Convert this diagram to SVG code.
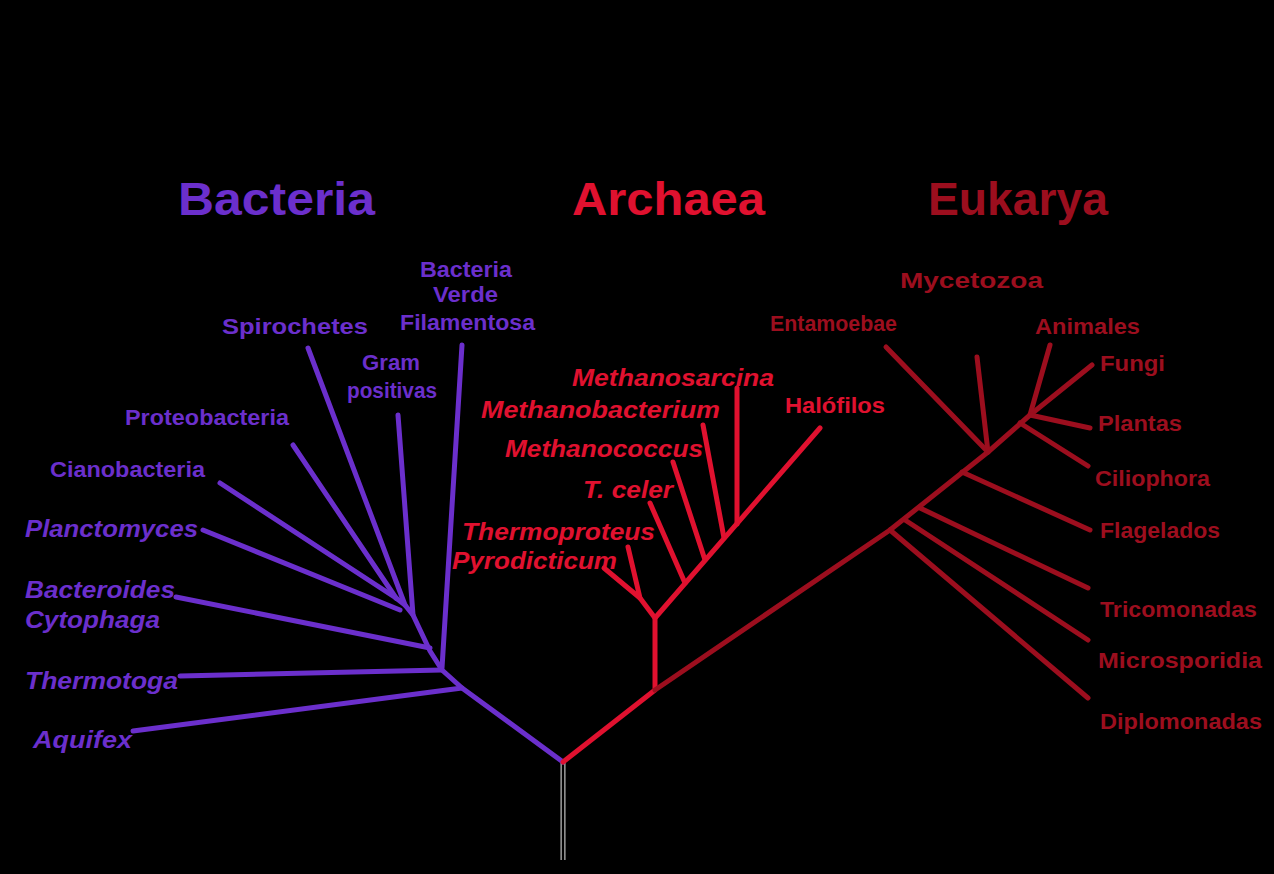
<svg xmlns="http://www.w3.org/2000/svg" width="1274" height="874" viewBox="0 0 1274 874">
<style>
.t{font-family:"Liberation Sans",Arial,sans-serif;font-weight:bold;font-size:22px}
.i{font-style:italic;font-size:24px}
.d{font-size:46px}
.bac{fill:#6b2fcc}
.arc{fill:#e0112f}
.euk{fill:#9c0e1e}
.lb{stroke:#6b2fcc;stroke-width:5;fill:none;stroke-linecap:round;stroke-linejoin:round}
.la{stroke:#e0112f;stroke-width:5;fill:none;stroke-linecap:round;stroke-linejoin:round}
.le{stroke:#9c0e1e;stroke-width:5;fill:none;stroke-linecap:round;stroke-linejoin:round}
</style>
<rect x="0" y="0" width="1274" height="874" fill="#000"/>
<g id="connectors">
  <line x1="563" y1="762" x2="563" y2="860" stroke="#bbbbbb" stroke-width="5"/>
  <line x1="563" y1="762" x2="563" y2="860" stroke="#000" stroke-width="2.5"/>
  <!-- Bacteria -->
  <polyline class="lb" points="563,762 462,688 442,670 430,651 413,615 405,605 396,598"/>
  <line class="lb" x1="462" y1="688" x2="133" y2="731"/>
  <line class="lb" x1="442" y1="670" x2="180" y2="676"/>
  <line class="lb" x1="442" y1="668" x2="462" y2="345"/>
  <line class="lb" x1="430" y1="648" x2="176" y2="597"/>
  <line class="lb" x1="413" y1="615" x2="398" y2="415"/>
  <line class="lb" x1="405" y1="605" x2="308" y2="348"/>
  <line class="lb" x1="396" y1="598" x2="293" y2="445"/>
  <line class="lb" x1="396" y1="598" x2="220" y2="483"/>
  <line class="lb" x1="400" y1="610" x2="203" y2="530"/>
  <!-- Archaea -->
  <polyline class="la" points="563,762 655,690 655,618 820,428"/>
  <polyline class="la" points="655,618 640,598 628,547"/>
  <line class="la" x1="640" y1="598" x2="604" y2="568"/>
  <line class="la" x1="685" y1="583" x2="650" y2="503"/>
  <line class="la" x1="705" y1="560" x2="673" y2="462"/>
  <line class="la" x1="724" y1="538" x2="703" y2="425"/>
  <line class="la" x1="737" y1="524" x2="737" y2="388"/>
  <!-- Eukarya -->
  <polyline class="le" points="655,690 890,530 988,452 1030,415 1092,365"/>
  <line class="le" x1="890" y1="530" x2="1088" y2="698"/>
  <line class="le" x1="905" y1="520" x2="1088" y2="640"/>
  <line class="le" x1="920" y1="508" x2="1088" y2="588"/>
  <line class="le" x1="962" y1="472" x2="1090" y2="530"/>
  <line class="le" x1="988" y1="452" x2="886" y2="347"/>
  <line class="le" x1="988" y1="452" x2="977" y2="357"/>
  <line class="le" x1="1030" y1="415" x2="1050" y2="345"/>
  <line class="le" x1="1030" y1="415" x2="1090" y2="428"/>
  <line class="le" x1="1020" y1="423" x2="1088" y2="466"/>
</g>
<g id="title-bacteria"><text class="t d bac" x="178" y="215" textLength="197" lengthAdjust="spacingAndGlyphs">Bacteria</text></g>
<g id="title-archaea"><text class="t d arc" x="572" y="215" textLength="193" lengthAdjust="spacingAndGlyphs">Archaea</text></g>
<g id="title-eukarya"><text class="t d euk" x="928" y="215" textLength="180" lengthAdjust="spacingAndGlyphs">Eukarya</text></g>

<g id="green-filamentous"><text class="t bac" x="420" y="277" textLength="92" lengthAdjust="spacingAndGlyphs">Bacteria</text><text class="t bac" x="433" y="302" textLength="65" lengthAdjust="spacingAndGlyphs">Verde</text><text class="t bac" x="400" y="330" textLength="135" lengthAdjust="spacingAndGlyphs">Filamentosa</text></g>
<g id="gram-positive"><text class="t bac" x="362" y="370" textLength="58" lengthAdjust="spacingAndGlyphs">Gram</text><text class="t bac" x="347" y="398" textLength="90" lengthAdjust="spacingAndGlyphs">positivas</text></g>
<g id="spirochetes"><text class="t bac" x="222" y="334" textLength="146" lengthAdjust="spacingAndGlyphs">Spirochetes</text></g>
<g id="proteobacteria"><text class="t bac" x="125" y="425" textLength="164" lengthAdjust="spacingAndGlyphs">Proteobacteria</text></g>
<g id="cyanobacteria"><text class="t bac" x="50" y="477" textLength="155" lengthAdjust="spacingAndGlyphs">Cianobacteria</text></g>
<g id="planctomyces"><text class="t i bac" x="25" y="537" textLength="173" lengthAdjust="spacingAndGlyphs">Planctomyces</text></g>
<g id="bacteroides"><text class="t i bac" x="25" y="598" textLength="150" lengthAdjust="spacingAndGlyphs">Bacteroides</text><text class="t i bac" x="25" y="628" textLength="135" lengthAdjust="spacingAndGlyphs">Cytophaga</text></g>
<g id="thermotoga"><text class="t i bac" x="25" y="689" textLength="153" lengthAdjust="spacingAndGlyphs">Thermotoga</text></g>
<g id="aquifex"><text class="t i bac" x="33" y="748" textLength="99" lengthAdjust="spacingAndGlyphs">Aquifex</text></g>

<g id="methanosarcina"><text class="t i arc" x="572" y="386" textLength="202" lengthAdjust="spacingAndGlyphs">Methanosarcina</text></g>
<g id="methanobacterium"><text class="t i arc" x="481" y="418" textLength="239" lengthAdjust="spacingAndGlyphs">Methanobacterium</text></g>
<g id="halophiles"><text class="t arc" x="785" y="413" textLength="100" lengthAdjust="spacingAndGlyphs">Halófilos</text></g>
<g id="methanococcus"><text class="t i arc" x="505" y="457" textLength="198" lengthAdjust="spacingAndGlyphs">Methanococcus</text></g>
<g id="tceler"><text class="t i arc" x="583" y="498" textLength="90" lengthAdjust="spacingAndGlyphs">T. celer</text></g>
<g id="thermoproteus"><text class="t i arc" x="462" y="540" textLength="193" lengthAdjust="spacingAndGlyphs">Thermoproteus</text></g>
<g id="pyrodicticum"><text class="t i arc" x="452" y="569" textLength="165" lengthAdjust="spacingAndGlyphs">Pyrodicticum</text></g>

<g id="slime-molds"><text class="t euk" x="900" y="288" textLength="143" lengthAdjust="spacingAndGlyphs">Mycetozoa</text></g>
<g id="entamoebae"><text class="t euk" x="770" y="331" textLength="127" lengthAdjust="spacingAndGlyphs">Entamoebae</text></g>
<g id="animals"><text class="t euk" x="1035" y="334" textLength="105" lengthAdjust="spacingAndGlyphs">Animales</text></g>
<g id="fungi"><text class="t euk" x="1100" y="371" textLength="65" lengthAdjust="spacingAndGlyphs">Fungi</text></g>
<g id="plants"><text class="t euk" x="1098" y="431" textLength="84" lengthAdjust="spacingAndGlyphs">Plantas</text></g>
<g id="ciliates"><text class="t euk" x="1095" y="486" textLength="115" lengthAdjust="spacingAndGlyphs">Ciliophora</text></g>
<g id="flagellates"><text class="t euk" x="1100" y="538" textLength="120" lengthAdjust="spacingAndGlyphs">Flagelados</text></g>
<g id="trichomonads"><text class="t euk" x="1100" y="617" textLength="157" lengthAdjust="spacingAndGlyphs">Tricomonadas</text></g>
<g id="microsporidia"><text class="t euk" x="1098" y="668" textLength="164" lengthAdjust="spacingAndGlyphs">Microsporidia</text></g>
<g id="diplomonads"><text class="t euk" x="1100" y="729" textLength="162" lengthAdjust="spacingAndGlyphs">Diplomonadas</text></g>
</svg>
